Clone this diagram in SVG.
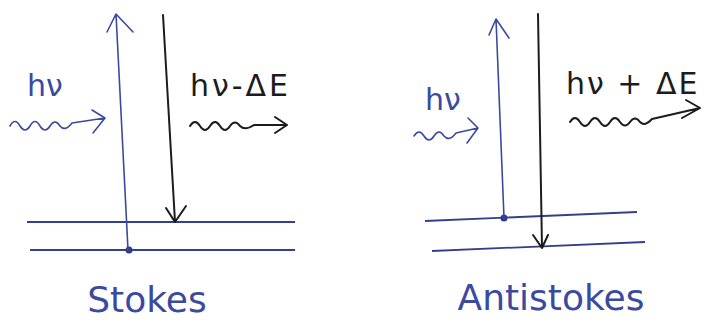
<svg xmlns="http://www.w3.org/2000/svg" width="707" height="320" viewBox="0 0 707 320">
<style>
.b{stroke:#3b4a9e;fill:none;stroke-width:1.6;stroke-linecap:round;stroke-linejoin:round}
.k{stroke:#1c1c1c;fill:none;stroke-width:2;stroke-linecap:round;stroke-linejoin:round}
.lvl{stroke:#34408a;fill:none;stroke-width:1.8}
.tb{fill:#3b4a9e;font-family:"DejaVu Sans","Liberation Sans",sans-serif}
.tk{fill:#1c1c1c;font-family:"DejaVu Sans","Liberation Sans",sans-serif}
</style>
<rect width="707" height="320" fill="#fff"/>
<g id="stokes">
  <g id="stokes-levels">
    <line class="lvl" x1="27" y1="222" x2="295" y2="222"/>
    <line class="lvl" x1="30" y1="250" x2="295" y2="250"/>
    <circle cx="129" cy="250" r="3.5" fill="#2e3a8a"/>
  </g>
  <g id="stokes-labels">
    <text class="tb" x="27" y="96" font-size="30">hν</text>
    <text class="tk" x="190" y="96" font-size="30" letter-spacing="3">hν-ΔE</text>
    <text class="tb" x="147" y="312" font-size="36" text-anchor="middle">Stokes</text>
  </g>
</g>
<g id="antistokes">
  <g id="antistokes-levels">
    <line class="lvl" x1="425" y1="221" x2="637" y2="212"/>
    <line class="lvl" x1="432" y1="251" x2="645" y2="242"/>
    <circle cx="504" cy="218" r="3.5" fill="#2e3a8a"/>
  </g>
  <g id="antistokes-labels">
    <text class="tb" x="425" y="110" font-size="30">hν</text>
    <text class="tk" x="566" y="94" font-size="30" letter-spacing="2">hν + ΔE</text>
    <text class="tb" x="551" y="310" font-size="36" text-anchor="middle">Antistokes</text>
  </g>
</g>
<g id="connectors">
  <path class="b" d="M128,250 L116,14 M107,32 L116,14 L133,32"/>
  <path class="k" d="M163,15 L175,222 M166,208 L175,222 L186,206"/>
  <path class="b" d="M504,218 L496,19 M489,35 L496,19 L509,38"/>
  <path class="k" d="M538,14 L542,248 M533,235 L542,248 L548,235"/>
  <path class="b" d="M10,126 q5,-9 10,0 q5,8 10,0 q5,-9 10,0 q5,8 10,0 q5,-8 10,0 q5,6 12,-3 L105,118 M92,110 L105,118 L93,133"/>
  <path class="k" d="M190,126 q5,-8 10,0 q5,8 10,0 q5,-8 10,0 q5,8 10,0 q5,-7 10,0 q5,5 14,-1 L287,125 M275,117 L287,125 L275,133"/>
  <path class="b" d="M414,136 q5,-8 10,0 q5,8 10,0 q5,-8 10,0 q5,6 12,-3 L478,128 M468,118 L478,128 L467,143"/>
  <path class="k" d="M570,122 q5,-8 10,0 q5,8 10,0 q5,-8 10,0 q5,8 10,0 q5,-8 10,0 q5,7 10,0 q5,-7 10,0 q5,5 12,-3 L700,108 M686,100 L700,108 L682,118"/>
</g>
</svg>
